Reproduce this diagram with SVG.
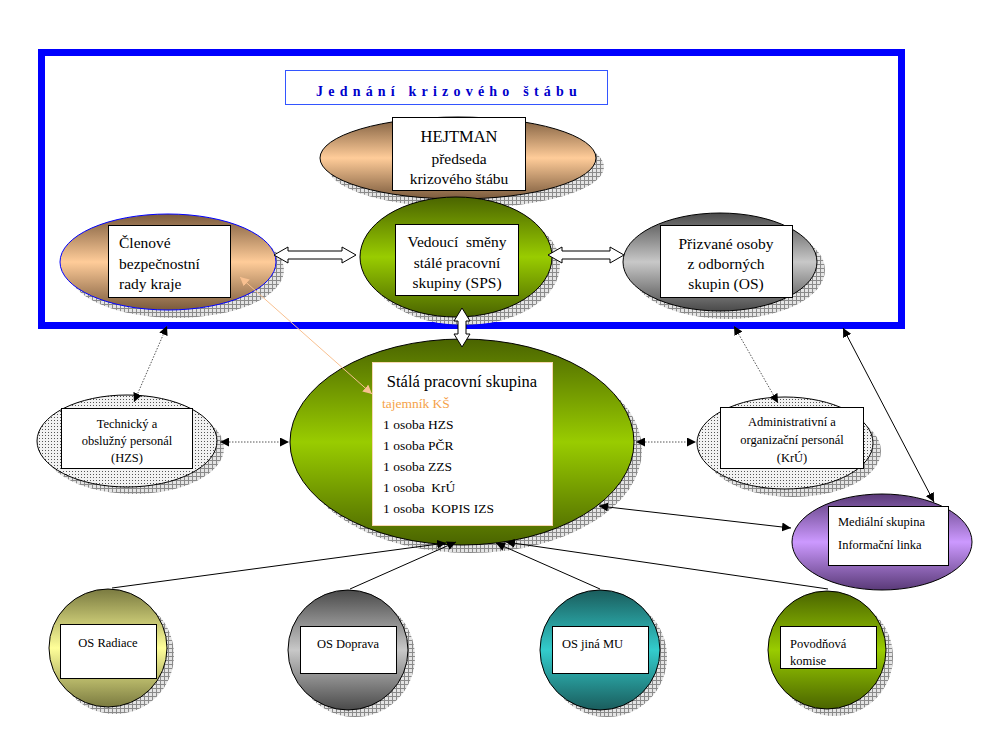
<svg xmlns="http://www.w3.org/2000/svg" width="994" height="740" viewBox="0 0 994 740">
<style>
text{font-family:"Liberation Serif","Times New Roman",serif;fill:#000;}
.box{fill:#fff;stroke:#000;stroke-width:1;}
.el{stroke:#000;stroke-width:1;}
.sh{fill:url(#hatch);stroke:none;}
.t15{font-size:15.5px;}
.t13{font-size:13.5px;}
.t12{font-size:12.5px;}
.c{text-anchor:middle;}
.con{fill:none;stroke:#000;stroke-width:1;}
.dot{stroke:#555;stroke-dasharray:1.5 1.5;}
.hollow{fill:#fff;stroke:#000;stroke-width:1;}
</style>
<defs>
<pattern id="hatch" width="4" height="4" patternUnits="userSpaceOnUse"><rect width="4" height="4" fill="#e4e4e4"/><path d="M0 0.5H4M0.5 0V4" stroke="#8a8a8a" stroke-width="1"/></pattern>
<pattern id="dots" width="3" height="3" patternUnits="userSpaceOnUse"><rect width="3" height="3" fill="#f2f2f2"/><rect width="1" height="1" fill="#555"/></pattern>
<linearGradient id="gBrown" x1="0" y1="0" x2="0" y2="1"><stop offset="0" stop-color="#7a5a3c"/><stop offset="0.5" stop-color="#ffcc99"/><stop offset="1" stop-color="#7a5a3c"/></linearGradient>
<linearGradient id="gGreen" x1="0" y1="0" x2="0" y2="1"><stop offset="0" stop-color="#4a6400"/><stop offset="0.5" stop-color="#99cc00"/><stop offset="1" stop-color="#4a6400"/></linearGradient>
<linearGradient id="gGray" x1="0" y1="0" x2="0" y2="1"><stop offset="0" stop-color="#4a4a4a"/><stop offset="0.5" stop-color="#c8c8c8"/><stop offset="1" stop-color="#4a4a4a"/></linearGradient>
<linearGradient id="gPurple" x1="0" y1="0" x2="0" y2="1"><stop offset="0" stop-color="#5a3a78"/><stop offset="0.5" stop-color="#cc99ff"/><stop offset="1" stop-color="#5a3a78"/></linearGradient>
<linearGradient id="gYellow" x1="0" y1="0" x2="0" y2="1"><stop offset="0" stop-color="#7a7a40"/><stop offset="0.5" stop-color="#ffff99"/><stop offset="1" stop-color="#7a7a40"/></linearGradient>
<linearGradient id="gTeal" x1="0" y1="0" x2="0" y2="1"><stop offset="0" stop-color="#1a5c5c"/><stop offset="0.5" stop-color="#33cccc"/><stop offset="1" stop-color="#1a5c5c"/></linearGradient>
<marker id="ah" viewBox="0 0 10 10" refX="10" refY="5" markerWidth="9" markerHeight="9" markerUnits="userSpaceOnUse" orient="auto-start-reverse"><path d="M0 0L10 5L0 10Z" fill="#000"/></marker>
<marker id="aho" viewBox="0 0 10 10" refX="10" refY="5" markerWidth="9" markerHeight="9" markerUnits="userSpaceOnUse" orient="auto-start-reverse"><path d="M0 0L10 5L0 10Z" fill="#f8c090"/></marker>
</defs>
<rect width="994" height="740" fill="#fff"/>

<g id="frame">
<rect x="41.5" y="52.5" width="860" height="273" fill="none" stroke="#0000ff" stroke-width="7"/>
</g>

<g id="title">
<rect x="285.5" y="70.5" width="322" height="34" fill="#fff" stroke="#3355ff" stroke-width="1"/>
<text x="449" y="96" class="c" style="font-size:14px;font-weight:bold;fill:#0000cc;letter-spacing:5.2px">Jednání krizového štábu</text>
</g>

<g id="hejtman">
<ellipse class="sh" cx="466" cy="167" rx="138" ry="41"/>
<ellipse class="el" cx="458" cy="158" rx="138" ry="41" fill="url(#gBrown)"/>
<rect class="box" x="392.5" y="117.5" width="133" height="73"/>
<text class="c" style="font-size:16.5px" x="459" y="142">HEJTMAN</text>
<text class="t15 c" x="459" y="164">předseda</text>
<text class="t15 c" x="459" y="184">krizového štábu</text>
</g>

<g id="clenove">
<ellipse class="sh" cx="176" cy="270" rx="108" ry="48"/>
<ellipse cx="168" cy="262" rx="108" ry="48" fill="url(#gBrown)" stroke="#0000ff" stroke-width="1"/>
<rect class="box" x="108.5" y="225.5" width="122" height="72"/>
<text class="t15" x="119" y="248">Členové</text>
<text class="t15" x="119" y="269">bezpečnostní</text>
<text class="t15" x="119" y="289">rady kraje</text>
</g>

<g id="vedouci">
<ellipse class="sh" cx="464" cy="265" rx="96" ry="60"/>
<ellipse class="el" cx="456" cy="257" rx="96" ry="60" fill="url(#gGreen)"/>
<rect class="box" x="395.5" y="224.5" width="123" height="71"/>
<text class="t15 c" x="457" y="247" xml:space="preserve">Vedoucí  směny</text>
<text class="t15 c" x="457" y="268">stálé pracovní</text>
<text class="t15 c" x="457" y="288">skupiny (SPS)</text>
</g>

<g id="prizvane">
<ellipse class="sh" cx="728" cy="270" rx="97" ry="49"/>
<ellipse class="el" cx="720" cy="262" rx="97" ry="49" fill="url(#gGray)"/>
<rect class="box" x="660.5" y="225.5" width="132" height="72"/>
<text class="t15 c" x="726" y="249">Přizvané osoby</text>
<text class="t15 c" x="726" y="269">z odborných</text>
<text class="t15 c" x="726" y="289">skupin (OS)</text>
</g>

<g id="stala">
<ellipse class="sh" cx="470" cy="450" rx="172" ry="103"/>
<ellipse class="el" cx="462" cy="442" rx="172" ry="103" fill="url(#gGreen)"/>
<rect x="372.5" y="362.5" width="180" height="163" fill="#fff" stroke="#f8d8b0" stroke-width="1"/>
<text class="c" style="font-size:16.5px" x="462" y="387">Stálá pracovní skupina</text>
<text class="t13" x="382" y="408" style="fill:#f5a24a">tajemník KŠ</text>
<text class="t13" x="383" y="429">1 osoba HZS</text>
<text class="t13" x="383" y="450">1 osoba PČR</text>
<text class="t13" x="383" y="471">1 osoba ZZS</text>
<text class="t13" x="383" y="492" xml:space="preserve">1 osoba  KrÚ</text>
<text class="t13" x="383" y="513" xml:space="preserve">1 osoba  KOPIS IZS</text>
</g>

<g id="technicky">
<ellipse class="sh" cx="134" cy="448" rx="90" ry="46"/>
<ellipse class="el" cx="127" cy="441" rx="90" ry="46" fill="url(#dots)"/>
<rect class="box" x="61.5" y="408.5" width="131" height="60"/>
<text class="t12 c" x="127" y="428">Technický a</text>
<text class="t12 c" x="127" y="445">obslužný personál</text>
<text class="t12 c" x="127" y="462">(HZS)</text>
</g>

<g id="administrativni">
<ellipse class="sh" cx="793" cy="451" rx="88" ry="46"/>
<ellipse class="el" cx="785" cy="443" rx="88" ry="46" fill="url(#dots)"/>
<rect class="box" x="720.5" y="407.5" width="143" height="61"/>
<text class="t12 c" x="792" y="426">Administrativní a</text>
<text class="t12 c" x="792" y="444">organizační personál</text>
<text class="t12 c" x="792" y="462">(KrÚ)</text>
</g>

<g id="medialni">
<ellipse class="el" cx="882" cy="542" rx="90" ry="48" fill="url(#gPurple)"/>
<rect class="box" x="828.5" y="506.5" width="120" height="59"/>
<text class="t12" x="838" y="526">Mediální skupina</text>
<text class="t12" x="838" y="549">Informační linka</text>
</g>

<g id="radiace">
<circle class="sh" cx="115" cy="655" r="59"/>
<circle class="el" cx="108" cy="648" r="59" fill="url(#gYellow)"/>
<rect class="box" x="60.5" y="624.5" width="96" height="54"/>
<text class="t12 c" x="108" y="647">OS Radiace</text>
</g>

<g id="doprava">
<circle class="sh" cx="355" cy="657" r="60"/>
<circle class="el" cx="348" cy="650" r="60" fill="url(#gGray)"/>
<rect class="box" x="300.5" y="626.5" width="96" height="47"/>
<text class="t12 c" x="348" y="648">OS Doprava</text>
</g>

<g id="jinamu">
<circle class="sh" cx="607" cy="657" r="60"/>
<circle class="el" cx="600" cy="650" r="60" fill="url(#gTeal)"/>
<rect class="box" x="552.5" y="626.5" width="96" height="47"/>
<text class="t12" x="562" y="648">OS jiná MU</text>
</g>

<g id="povodnova">
<circle class="sh" cx="834" cy="657" r="59"/>
<circle class="el" cx="827" cy="650" r="59" fill="url(#gGreen)"/>
<rect class="box" x="780.5" y="626.5" width="96" height="42"/>
<text class="t12" x="790" y="648">Povodňová</text>
<text class="t12" x="790" y="665">komise</text>
</g>

<g id="connectors">
<polygon class="hollow" points="274,255 288,247 288,251 342,251 342,247 356,255 342,263 342,259 288,259 288,263"/>
<polygon class="hollow" points="548,255 562,247 562,251 610,251 610,247 624,255 610,263 610,259 562,259 562,263"/>
<polygon class="hollow" points="462,308 470,321 466,321 466,334 470,334 462,347 454,334 458,334 458,321 454,321"/>
<line x1="240" y1="277" x2="372" y2="394" stroke="#f8c090" stroke-width="1" marker-start="url(#aho)" marker-end="url(#aho)"/>
<line class="con dot" x1="167" y1="326" x2="134" y2="402" marker-start="url(#ah)" marker-end="url(#ah)"/>
<line class="con dot" x1="220" y1="442" x2="289" y2="442" marker-start="url(#ah)" marker-end="url(#ah)"/>
<line class="con dot" x1="734" y1="326" x2="778" y2="403" marker-start="url(#ah)" marker-end="url(#ah)"/>
<line class="con dot" x1="636" y1="442" x2="696" y2="442" marker-start="url(#ah)" marker-end="url(#ah)"/>
<line class="con" x1="843" y1="328" x2="934" y2="502" marker-start="url(#ah)" marker-end="url(#ah)"/>
<line class="con" x1="599" y1="506" x2="791" y2="528" marker-start="url(#ah)" marker-end="url(#ah)"/>
<line class="con" x1="112" y1="588" x2="446" y2="543" marker-end="url(#ah)"/>
<line class="con" x1="350" y1="589" x2="456" y2="542" marker-end="url(#ah)"/>
<line class="con" x1="600" y1="589" x2="496" y2="543" marker-end="url(#ah)"/>
<line class="con" x1="828" y1="589" x2="506" y2="542" marker-end="url(#ah)"/>
</g>
</svg>
